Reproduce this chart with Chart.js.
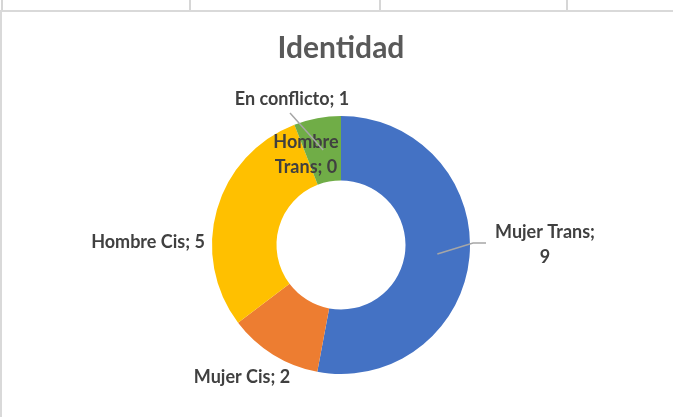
<!DOCTYPE html>
<html>
<head>
<meta charset="utf-8">
<script src="https://cdn.jsdelivr.net/npm/chart.js@4.4.1/dist/chart.umd.min.js"></script>
<style>
  html, body { margin: 0; padding: 0; background: #fff; }
  #wrap { position: relative; width: 673px; height: 417px; overflow: hidden; }
  .cell { position: absolute; top: 0; width: 2px; height: 10px; background: #d6d6d6; }
  #frame { position: absolute; left: 0; top: 10px; width: 671px; height: 405px;
           border-top: 2px solid #d9d9d9; border-left: 2px solid #d9d9d9; }
  canvas { position: absolute; left: 0; top: 0; }
</style>
</head>
<body>
<div id="wrap">
  <div class="cell" style="left:1px"></div>
  <div class="cell" style="left:189px"></div>
  <div class="cell" style="left:379px"></div>
  <div class="cell" style="left:566px"></div>
  <div id="frame"></div>
  <canvas id="myChart" width="673" height="417"></canvas>
</div>
<script>
var categorias = ['Mujer Trans', 'Mujer Cis', 'Hombre Cis', 'Hombre Trans', 'En conflicto'];
var valores = [9, 2, 5, 0, 1];
var colores = ['#4472C4', '#ED7D31', '#FFC000', '#A5A5A5', '#70AD47'];

// where each data label sits, relative to the doughnut centre (Excel "best fit")
var etiquetas = [
  { dx: 204, dy: 0, lines: ['Mujer Trans;', '9'], leader: 'left' },
  { dx: -99, dy: 132, lines: ['Mujer Cis; 2'] },
  { dx: -193, dy: -3, lines: ['Hombre Cis; 5'] },
  { dx: -35, dy: -90, lines: ['Hombre', 'Trans; 0'] },
  { dx: -49, dy: -146, lines: ['En conflicto; 1'], leader: 'bottom' }
];

var labelPlugin = {
  id: 'excelLabels',
  afterDatasetsDraw: function(chart) {
    var ctx = chart.ctx;
    var meta = chart.getDatasetMeta(0);
    var lh = 25;
    ctx.save();
    ctx.font = 'bold 18px Lato';
    ctx.fillStyle = '#404040';
    ctx.textAlign = 'center';
    ctx.textBaseline = 'middle';
    meta.data.forEach(function(arc, i) {
      var p = arc.getProps(['x', 'y', 'startAngle', 'endAngle', 'innerRadius', 'outerRadius'], true);
      var et = etiquetas[i];
      var lx = p.x + et.dx, ly = p.y + et.dy;
      var mid = (p.startAngle + p.endAngle) / 2;
      var r = (p.innerRadius + p.outerRadius) / 2;
      var ax = p.x + Math.cos(mid) * r, ay = p.y + Math.sin(mid) * r;
      var w = 0;
      et.lines.forEach(function(t) { w = Math.max(w, ctx.measureText(t).width); });
      var h = et.lines.length * lh;
      if (et.leader) {
        ctx.strokeStyle = '#A6A6A6';
        ctx.lineWidth = 1.5;
        ctx.beginPath();
        ctx.moveTo(ax, ay);
        if (et.leader === 'left') {
          var ex = lx - w / 2 - 9;
          ctx.lineTo(ex - 13, ly - 2);
          ctx.lineTo(ex, ly - 2);
        } else {
          ctx.lineTo(lx - 2, ly + 14);
        }
        ctx.stroke();
      }
      et.lines.forEach(function(t, k) {
        ctx.fillText(t, lx, ly - h / 2 + lh / 2 + k * lh);
      });
    });
    ctx.restore();
  }
};

var ctx = document.getElementById('myChart').getContext('2d');
var myChart = new Chart(ctx, {
  type: 'doughnut',
  data: {
    labels: categorias,
    datasets: [{
      data: valores,
      backgroundColor: colores,
      borderWidth: 0
    }]
  },
  options: {
    responsive: false,
    animation: false,
    cutout: '50%',
    layout: { padding: { left: 212, right: 203, top: 0, bottom: 43 } },
    plugins: {
      legend: { display: false },
      tooltip: { enabled: false },
      title: {
        display: true,
        text: 'Identidad',
        color: '#595959',
        font: { family: 'Lato', size: 30, weight: 'bold', lineHeight: 1.2 },
        padding: { top: 30, bottom: 50 }
      }
    }
  },
  plugins: [labelPlugin]
});
</script>
</body>
</html>
